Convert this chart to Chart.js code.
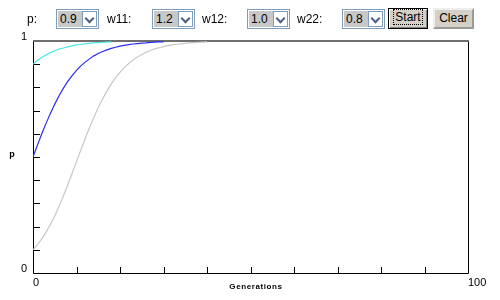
<!DOCTYPE html>
<html lang="en">
<head>
<meta charset="UTF-8">
<title>Selection simulation</title>
<script src="https://cdn.jsdelivr.net/npm/chart.js@4/dist/chart.umd.min.js"></script>
<style>
  * { box-sizing: border-box; margin: 0; padding: 0; }
  body { width: 500px; height: 300px; background: #fff; overflow: hidden;
         font-family: 'Liberation Sans', Arial, sans-serif; font-size: 12px; color: #000; }
  #wrap { position: relative; width: 500px; height: 300px; }
  canvas { position: absolute; left: 0; top: 0; }
  .lbl  { position: absolute; top: 12px; line-height: 14px; }
  .sel  { position: absolute; top: 9px; width: 43px; height: 20px; border: 1px solid #7f9db9;
          background: #fff; }
  .sel .val { position: absolute; left: 1px; top: 1px; width: 25px; height: 16px;
              background: #c8c8c8; line-height: 16px; padding-left: 2px; font-size: 12px; }
  .sel .arr { position: absolute; right: 1px; top: 1px; width: 15px; height: 16px;
              border: 1px solid #7f9db9; background: #fff; }
  .sel .arr::after { content: ''; position: absolute; left: 3px; top: 3px; width: 5px; height: 5px;
              border-right: 2px solid #4d6185; border-bottom: 2px solid #4d6185; transform: rotate(45deg); }
  .btn  { position: absolute; top: 8px; height: 21px; background: #d4d0c8; line-height: 17px;
          text-align: center; border: 2px outset #eeeeee; font-size: 12px; }
  .btn.start { border: 1px solid #000; box-shadow: inset 1px 1px #fff, inset -1px -1px #808080; }
  .btn.start span { border: 1px dotted #000; padding: 0 1px; }
</style>
</head>
<body>
<div id="wrap">
  <canvas id="chart" width="500" height="300"></canvas>
  <div class="lbl" style="left:27px">p:</div>
  <div class="sel" style="left:56px"><div class="val">0.9</div><div class="arr"></div></div>
  <div class="lbl" style="left:107px">w11:</div>
  <div class="sel" style="left:152px"><div class="val">1.2</div><div class="arr"></div></div>
  <div class="lbl" style="left:202px">w12:</div>
  <div class="sel" style="left:247px"><div class="val">1.0</div><div class="arr"></div></div>
  <div class="lbl" style="left:297px">w22:</div>
  <div class="sel" style="left:342px"><div class="val">0.8</div><div class="arr"></div></div>
  <div class="btn start" style="left:388px;width:40px"><span>Start</span></div>
  <div class="btn" style="left:433px;width:41px">Clear</div>
</div>
<script>
// allele frequency p per generation
const cyanRun = [0.9, 0.916, 0.929, 0.940, 0.950, 0.958, 0.965, 0.970, 0.975, 0.979, 0.983,
  0.986, 0.988, 0.990, 0.992, 0.993, 0.994, 0.995, 0.996];
const blueRun = [0.5, 0.55, 0.599, 0.645, 0.688, 0.728, 0.764, 0.797, 0.826, 0.851, 0.873,
  0.893, 0.909, 0.923, 0.936, 0.946, 0.955, 0.962, 0.968, 0.973, 0.978, 0.981, 0.984,
  0.987, 0.989, 0.991, 0.992, 0.994, 0.995, 0.996, 0.996];
const grayRun = [0.1, 0.121, 0.147, 0.176, 0.209, 0.246, 0.288, 0.333, 0.380, 0.430, 0.480,
  0.530, 0.580, 0.627, 0.671, 0.713, 0.750, 0.784, 0.815, 0.842, 0.865, 0.885, 0.903,
  0.918, 0.931, 0.942, 0.951, 0.959, 0.966, 0.971, 0.976, 0.980, 0.983, 0.986, 0.988,
  0.990, 0.992, 0.993, 0.994, 0.995, 0.996];

const xTickLabels = ['0', '100'];
const yTickLabels = ['0', '1'];
const xTitle = 'Generations';
const yTitle = 'p';

const toPoints = (arr) => arr.map((v, i) => ({ x: i, y: v }));

// frame, inward ticks and labels, drawn from the chart's scales
const framePlugin = {
  id: 'frame',
  beforeDatasetsDraw(chart) {
    const { ctx, chartArea: a, scales: { x, y } } = chart;
    ctx.save();
    ctx.lineWidth = 1;
    ctx.strokeStyle = '#000';
    ctx.beginPath();
    ctx.moveTo(a.left + 0.5, a.top);
    ctx.lineTo(a.left + 0.5, a.bottom + 0.5);
    ctx.lineTo(a.right + 0.5, a.bottom + 0.5);
    ctx.lineTo(a.right + 0.5, a.top);
    ctx.stroke();
    ctx.strokeStyle = '#6e6e6e';
    ctx.lineWidth = 2;
    ctx.beginPath();
    ctx.moveTo(a.left, a.top);
    ctx.lineTo(a.right + 1, a.top);
    ctx.stroke();

    ctx.strokeStyle = '#000';
    ctx.lineWidth = 1;
    ctx.beginPath();
    for (let v = 10; v < 100; v += 10) {
      const px = Math.round(x.getPixelForValue(v)) + 0.5;
      ctx.moveTo(px, a.bottom);
      ctx.lineTo(px, a.bottom - 6);
    }
    for (let v = 1; v < 10; v++) {
      const py = Math.round(y.getPixelForValue(v / 10)) + 0.5;
      ctx.moveTo(a.left, py);
      ctx.lineTo(a.left + 7, py);
    }
    ctx.stroke();

    ctx.fillStyle = '#000';
    ctx.font = '11px "Liberation Sans", Arial, sans-serif';
    ctx.textAlign = 'right';
    ctx.textBaseline = 'middle';
    ctx.fillText(yTickLabels[1], 27, y.getPixelForValue(1) - 4);
    ctx.fillText(yTickLabels[0], 27, y.getPixelForValue(0) - 4);
    ctx.textAlign = 'left';
    ctx.fillText(xTickLabels[0], x.getPixelForValue(0), a.bottom + 10);
    ctx.fillText(xTickLabels[1], x.getPixelForValue(100), a.bottom + 10);

    ctx.font = 'bold 8px "Liberation Sans", Arial, sans-serif';
    ctx.textAlign = 'center';
    ctx.letterSpacing = '0.6px';
    ctx.fillText(xTitle, 256, a.bottom + 14);
    ctx.letterSpacing = '0px';
    ctx.font = 'bold 9px "Liberation Sans", Arial, sans-serif';
    ctx.fillText(yTitle, 12, y.getPixelForValue(0.5) - 2);
    ctx.restore();
  }
};

new Chart(document.getElementById('chart'), {
  type: 'line',
  data: {
    datasets: [
      { data: toPoints(grayRun), borderColor: '#c8c8c8' },
      { data: toPoints(blueRun), borderColor: '#2a2af0' },
      { data: toPoints(cyanRun), borderColor: '#4ee8e8' },
    ],
  },
  options: {
    responsive: false,
    animation: false,
    layout: { padding: { left: 33, right: 32, top: 41, bottom: 27 } },
    elements: { line: { borderWidth: 1.2, tension: 0 }, point: { radius: 0 } },
    plugins: { legend: { display: false }, tooltip: { enabled: false } },
    scales: {
      x: { type: 'linear', min: 0, max: 100, display: false },
      y: { min: 0, max: 1, display: false },
    },
  },
  plugins: [framePlugin],
});
</script>
</body>
</html>
